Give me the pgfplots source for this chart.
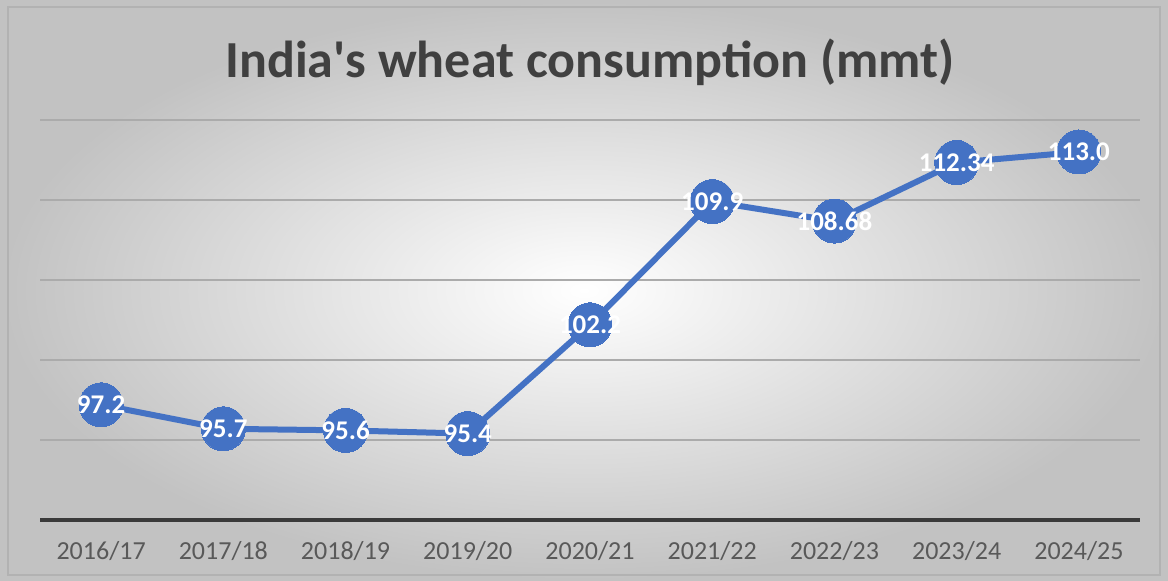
\documentclass[border=0pt]{standalone}
\usepackage{pgfplots}
\pgfplotsset{compat=1.18}
\usepackage{fontspec}
\setmainfont{Carlito}
\definecolor{lineblue}{HTML}{4472C4}
\definecolor{gridgray}{HTML}{ABABAB}
\definecolor{axisdark}{HTML}{3A3A3A}
\definecolor{ticktext}{HTML}{595959}
\definecolor{titletext}{HTML}{404040}
\begin{document}
\begin{tikzpicture}
\shade[inner color=white, outer color=black!24] (-20pt,-30.5pt) rectangle (564pt,260pt);
\draw[black!30, line width=0.6pt] (-16pt,-27.5pt) rectangle (560pt,256.5pt);
\node[font=\bfseries\fontsize{26}{30}\selectfont, text=titletext] at (275pt,229pt) {India\textquotesingle s wheat consumption (mmt)};
\begin{axis}[
  at={(0pt,0pt)}, anchor=south west,
  scale only axis, width=550pt, height=200pt,
  xmin=-0.5, xmax=8.5, ymin=90, ymax=115,
  clip=false,
  axis line style={draw=none},
  xtick={0,...,8},
  xticklabels={2016/17,2017/18,2018/19,2019/20,2020/21,2021/22,2022/23,2023/24,2024/25},
  ytick={95,100,105,110,115},
  yticklabels={},
  ymajorgrids,
  major grid style={gridgray, line width=0.75pt},
  major tick length=0pt,
  tick style={draw=none},
  xticklabel style={font=\fontsize{13}{15}\selectfont, text=ticktext, yshift=-7pt},
]
\addplot[axisdark, line width=2pt, forget plot] coordinates {(-0.5,90) (8.5,90)};
\addplot[lineblue, line width=3pt, mark=*, mark size=11pt,
  mark options={fill=lineblue, draw=lineblue, line width=0pt},
  nodes near coords, point meta=explicit symbolic,
  every node near coord/.append style={text=white, font=\bfseries\fontsize{13.5}{15}\selectfont, anchor=center}]
table[meta=label] {
x y label
0 97.2 97.2
1 95.7 95.7
2 95.6 95.6
3 95.4 95.4
4 102.2 102.2
5 109.9 109.9
6 108.68 108.68
7 112.34 112.34
8 113.0 113.0
};
\end{axis}
\end{tikzpicture}
\end{document}
